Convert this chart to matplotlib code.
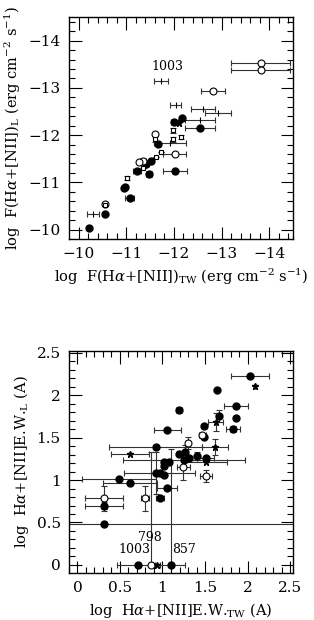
import numpy as np
import matplotlib
matplotlib.use("Agg")
import matplotlib.pyplot as plt

plt.rcParams['font.family'] = ['DejaVu Serif']
plt.rcParams['mathtext.fontset'] = 'dejavuserif'

# ---------------- top panel: fluxes ----------------
# filled circles
tf_x = [-10.21, -10.56, -11.07, -10.95, -10.98, -11.23, -11.48, -12.02, -11.41, -11.53, -11.67, -12.01, -12.18, -12.55]
tf_y = [-10.04, -10.34, -10.67, -10.88, -10.91, -11.25, -11.18, -11.24, -11.39, -11.46, -11.81, -12.28, -12.37, -12.16]
tf_xe = [0.0, 0.0, 0.09, 0.0, 0.0, 0.08, 0.06, 0.25, 0.0, 0.0, 0.0, 0.08, 0.0, 0.32]
# open circles
to_x = [-13.82, -13.82, -12.83, -11.60, -12.02, -11.35, -11.27, -10.56]
to_y = [-13.52, -13.37, -12.93, -12.02, -11.61, -11.46, -11.43, -10.54]
to_xe = [0.62, 0.62, 0.25, 0.0, 0.24, 0.07, 0.0, 0.0]
# plus symbols
tp_x = [-11.73, -12.04, -12.62, -12.93, -12.55, -10.30, -11.92]
tp_y = [-13.14, -12.63, -12.56, -12.46, -12.32, -10.34, -11.84]
tp_xe = [0.14, 0.12, 0.25, 0.27, 0.32, 0.13, 0.34]
# stars
ts_x = [-12.10]
ts_y = [-12.26]
# small squares
tq_x = [-11.99, -12.16, -11.99, -11.60, -11.74, -11.63, -11.02, -10.56, -11.35]
tq_y = [-12.10, -11.96, -11.91, -11.92, -11.65, -11.54, -11.09, -10.53, -11.30]
tq_ye = [0.05, 0.05, 0.05, 0.06, 0.0, 0.0, 0.05, 0.0, 0.0]
top_lbl = "1003"
top_lbl_xy = (-11.86, -13.46)

# ---------------- bottom panel: equivalent widths ----------------
bf_x = [2.03, 1.645, 1.194, 1.865, 1.665, 1.865, 1.057, 1.83, 1.485, 1.485, 0.92, 1.194, 1.27, 1.40,
        1.51, 1.25, 1.31, 1.018, 1.076, 1.018, 0.967, 0.92, 1.018, 0.488, 0.618, 1.056, 0.312, 0.97,
        0.312, 0.716, 1.096]
bf_y = [2.23, 2.055, 1.82, 1.874, 1.757, 1.73, 1.588, 1.60, 1.635, 1.51, 1.39, 1.31, 1.33, 1.286,
        1.265, 1.235, 1.26, 1.215, 1.208, 1.165, 1.086, 1.086, 1.055, 1.008, 0.96, 0.91, 0.70, 0.785,
        0.48, 0.0, 0.0]
bf_xe = [0.22, 0.0, 0.03, 0.14, 0.0, 0.0, 0.16, 0.085, 0.0, 0.0, 0.55, 0.0, 0.0, 0.0,
         0.10, 0.72, 0.0, 0.0, 0.0, 0.0, 0.42, 0.0, 0.0, 0.435, 0.32, 0.12, 0.22, 0.045,
         3.0, 0.0, 0.0]
bf_ylo = [0.0, 0.0, 0.0, 0.0, 0.07, 0.0, 0.0, 0.04, 0.0, 0.0, 0.0, 0.0, 0.08, 0.05,
          0.0, 0.0, 0.0, 0.0, 0.0, 0.0, 0.0, 0.25, 0.0, 0.0, 0.0, 0.0, 0.04, 0.0,
          0.0, 0.0, 0.0]
bf_yhi = [0.0, 0.0, 0.0, 0.0, 0.07, 0.0, 0.0, 0.04, 0.0, 0.0, 0.0, 0.0, 0.08, 0.05,
          0.0, 0.0, 0.0, 0.0, 0.0, 0.0, 0.0, 0.25, 0.0, 0.0, 0.0, 0.0, 0.04, 0.0,
          0.0, 0.0, 1.37]
bo_x = [1.47, 1.296, 1.245, 1.51, 0.312, 0.794, 0.86]
bo_y = [1.53, 1.44, 1.157, 1.05, 0.785, 0.785, 0.0]
bo_xe = [0.04, 0.0, 0.08, 0.07, 0.22, 0.05, 0.40]
bo_ylo = [0.0, 0.07, 0.16, 0.07, 0.15, 0.15, 0.0]
bo_yhi = [0.0, 0.07, 0.16, 0.07, 0.15, 0.15, 1.33]
bs_x = [2.085, 1.626, 1.62, 0.62, 1.51, 0.94]
bs_y = [2.11, 1.682, 1.39, 1.31, 1.215, 0.0]
bs_xe = [0.0, 0.09, 0.15, 0.22, 0.25, 0.03]
bs_ye = [0.0, 0.11, 0.09, 0.0, 0.0, 0.0]
bot_lbls = ["798", "1003", "857"]
bot_lbl_xy = [(0.853, 0.318), (0.673, 0.176), (1.25, 0.176)]

fig = plt.figure(figsize=(3.14, 6.2), dpi=100)
ax1 = fig.add_axes([0.2197, 0.6145, 0.7134, 0.3581])
ax2 = fig.add_axes([0.2197, 0.0758, 0.7134, 0.3581])

ec = '#333333'
ekw = dict(ecolor=ec, elinewidth=0.8, capsize=2.2, capthick=0.8, linestyle='none')


def style(ax):
    ax.tick_params(which='both', direction='in', top=True, right=True, labelsize=11, width=0.8)
    ax.tick_params(which='major', length=9, pad=6)
    ax.tick_params(which='minor', length=4.5)
    for s in ax.spines.values():
        s.set_linewidth(1.0)


# top
ax1.errorbar(tf_x, tf_y, xerr=tf_xe, fmt='o', ms=5, mfc='black', mec='black', **ekw)
ax1.errorbar(to_x, to_y, xerr=to_xe, fmt='o', ms=5, mfc='white', mec='black', mew=0.8, **ekw)
ax1.errorbar(tp_x, tp_y, xerr=tp_xe, fmt='|', ms=4, mec='black', mew=0.8, **ekw)
ax1.errorbar(ts_x, ts_y, fmt='*', ms=5, mfc='black', mec='black', **ekw)
ax1.errorbar(tq_x, tq_y, yerr=tq_ye, fmt='s', ms=3.5, mfc='white', mec='black', mew=0.8, **ekw)
ax1.text(top_lbl_xy[0], top_lbl_xy[1], top_lbl, ha='center', va='center', fontsize=9)
ax1.set_xlim(-9.8, -14.5)
ax1.set_ylim(-9.8, -14.5)
ax1.set_xticks([-10, -11, -12, -13, -14])
ax1.set_yticks([-10, -11, -12, -13, -14])
ax1.set_xticks(np.arange(-10, -14.6, -0.2), minor=True)
ax1.set_yticks(np.arange(-10, -14.6, -0.2), minor=True)
style(ax1)
ax1.set_xlabel(r'log  F(H$\alpha$+[NII])$_{\rm TW}$ (erg cm$^{-2}$ s$^{-1}$)', fontsize=10.5, labelpad=4)
ax1.set_ylabel(r'log  F(H$\alpha$+[NII])$_{\rm L}$ (erg cm$^{-2}$ s$^{-1}$)', fontsize=10.5, labelpad=4)

# bottom
ax2.errorbar(bf_x, bf_y, xerr=bf_xe, yerr=[bf_ylo, bf_yhi], fmt='o', ms=5, mfc='black', mec='black', **ekw)
ax2.errorbar(bo_x, bo_y, xerr=bo_xe, yerr=[bo_ylo, bo_yhi], fmt='o', ms=5, mfc='white', mec='black', mew=0.8, **ekw)
ax2.errorbar(bs_x, bs_y, xerr=bs_xe, yerr=bs_ye, fmt='*', ms=5, mfc='black', mec='black', **ekw)
for t, (x, y) in zip(bot_lbls, bot_lbl_xy):
    ax2.text(x, y, t, ha='center', va='center', fontsize=9)
ax2.set_xlim(-0.1, 2.535)
ax2.set_ylim(-0.095, 2.52)
ax2.set_xticks([0, 0.5, 1, 1.5, 2, 2.5])
ax2.set_xticklabels(['0', '0.5', '1', '1.5', '2', '2.5'])
ax2.set_yticks([0, 0.5, 1, 1.5, 2, 2.5])
ax2.set_yticklabels(['0', '0.5', '1', '1.5', '2', '2.5'])
ax2.set_xticks(np.arange(-0.1, 2.55, 0.1), minor=True)
ax2.set_yticks(np.arange(-0.0, 2.55, 0.1), minor=True)
style(ax2)
ax2.set_xlabel(r'log  H$\alpha$+[NII]E.W.$_{\rm TW}$ (A)', fontsize=10.5, labelpad=4)
ax2.set_ylabel(r'log  H$\alpha$+[NII]E.W.$_{\rm L}$ (A)', fontsize=10.5, labelpad=4)

fig.savefig('out.png', dpi=100)
